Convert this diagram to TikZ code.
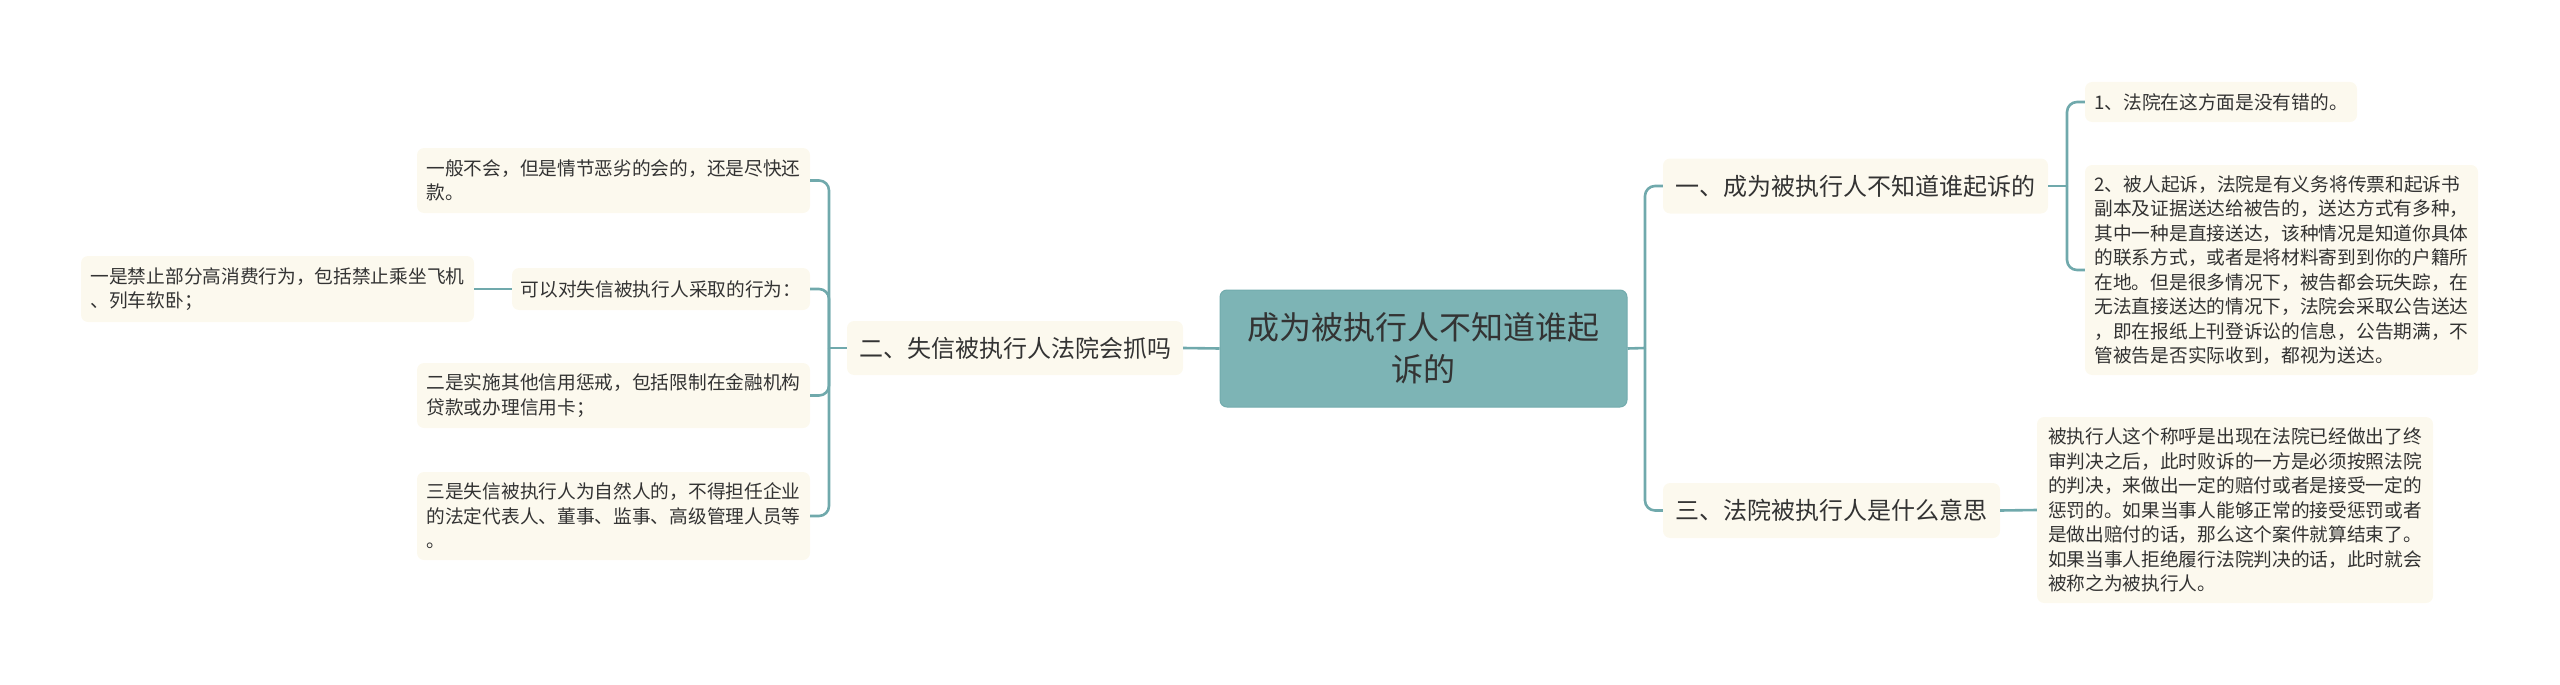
\documentclass[tikz,border=0pt]{standalone}
\usepackage{fontspec}
\newfontfamily\cjk{Noto Sans CJK SC}
\definecolor{conncol}{HTML}{70A9AC}
\definecolor{rootfill}{HTML}{7DB4B5}
\definecolor{rootdraw}{HTML}{72ABAD}
\definecolor{boxfill}{HTML}{FCF9EE}
\definecolor{textc}{HTML}{333333}
\tikzset{
  conn/.style={draw=conncol, line width=2.6pt},
  elbowline/.style={conn, rounded corners=10pt},
  rootbox/.style={fill=rootfill, draw=rootdraw, line width=1pt, rounded corners=7pt, inner sep=0pt,
    align=center, text=textc, font=\cjk\fontsize{32}{42}\selectfont},
  branchbox/.style={fill=boxfill, rounded corners=7pt, inner sep=0pt, align=left, text=textc,
    font=\cjk\fontsize{24}{30}\selectfont},
  leafbox/.style={fill=boxfill, rounded corners=7pt, inner sep=0pt, align=left, text=textc,
    font=\cjk\fontsize{18.7}{24.5}\selectfont},
  sz/.style 2 args={minimum width=#1pt, minimum height=#2pt}
}
\begin{document}
\begin{tikzpicture}[x=1pt,y=-1pt]
\useasboundingbox (0,0) rectangle (2560,685);

% root
\node[rootbox, sz={407}{117}] (root) at (1423.5,348.5) {成为被执行人不知道谁起\\诉的};

% left branch
\node[branchbox, sz={336}{54}] (b2) at (1015,348) {二、失信被执行人法院会抓吗};
\node[leafbox, sz={393}{65}] (l1) at (613.5,180.5) {一般不会，但是情节恶劣的会的，还是尽快还\\款。};
\node[leafbox, sz={298}{42}] (l2) at (661,289) {可以对失信被执行人采取的行为：};
\node[leafbox, sz={393}{66}] (l2c) at (277.5,289) {一是禁止部分高消费行为，包括禁止乘坐飞机\\、列车软卧；};
\node[leafbox, sz={393}{65}] (l3) at (613.5,395.5) {二是实施其他信用惩戒，包括限制在金融机构\\贷款或办理信用卡；};
\node[leafbox, sz={393}{88}] (l4) at (613.5,516) {三是失信被执行人为自然人的，不得担任企业\\的法定代表人、董事、监事、高级管理人员等\\。};

% right branches
\node[branchbox, sz={385}{55}] (b1) at (1855.5,186) {一、成为被执行人不知道谁起诉的};
\node[branchbox, sz={337}{55}] (b3) at (1831.5,510.5) {三、法院被执行人是什么意思};
\node[leafbox, sz={272}{40}] (r1a) at (2221,102) {1、法院在这方面是没有错的。};
\node[leafbox, sz={393}{210}] (r1b) at (2281.5,270) {2、被人起诉，法院是有义务将传票和起诉书\\副本及证据送达给被告的，送达方式有多种，\\其中一种是直接送达，该种情况是知道你具体\\的联系方式，或者是将材料寄到到你的户籍所\\在地。但是很多情况下，被告都会玩失踪，在\\无法直接送达的情况下，法院会采取公告送达\\，即在报纸上刊登诉讼的信息，公告期满，不\\管被告是否实际收到，都视为送达。};
\node[leafbox, sz={396}{186}] (r3a) at (2235,510) {被执行人这个称呼是出现在法院已经做出了终\\审判决之后，此时败诉的一方是必须按照法院\\的判决，来做出一定的赔付或者是接受一定的\\惩罚的。如果当事人能够正常的接受惩罚或者\\是做出赔付的话，那么这个案件就算结束了。\\如果当事人拒绝履行法院判决的话，此时就会\\被称之为被执行人。};

% junctions
\coordinate (jL) at (829,348);
\coordinate (jR) at (1645,348);
\coordinate (j1) at (2067,186);

% connectors: root
\draw[conn] (root.west) -- (b2.east);
\draw[conn] (root.east) -- (jR);
\draw[elbowline] (jR) |- (b1.west);
\draw[elbowline] (jR) |- (b3.west);

% left
\draw[conn] (b2.west) -- (jL);
\draw[elbowline] (jL) |- (l1.east);
\draw[elbowline] (jL) |- (l2.east);
\draw[elbowline] (jL) |- (l3.east);
\draw[elbowline] (jL) |- (l4.east);
\draw[conn] (l2.west) -- (l2c.east);

% right
\draw[conn] (b1.east) -- (j1);
\draw[elbowline] (j1) |- (r1a.west);
\draw[elbowline] (j1) |- (r1b.west);
\draw[conn] (b3.east) -- (r3a.west);
\end{tikzpicture}
\end{document}
